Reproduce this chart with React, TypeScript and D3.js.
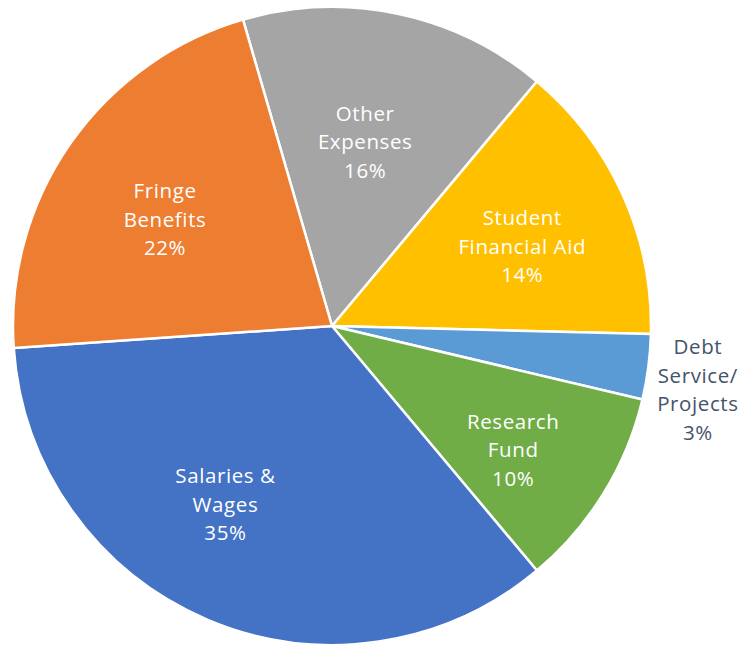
import React from "react";
import * as d3 from "d3";

const categories = ["Other Expenses", "Student Financial Aid", "Debt Service/ Projects", "Research Fund", "Salaries & Wages", "Fringe Benefits"];
const values = [15.6, 14.3, 3.3, 10.2, 35.0, 21.6];
const labelLines = [
  ["Other", "Expenses", "16%"],
  ["Student", "Financial Aid", "14%"],
  ["Debt", "Service/", "Projects", "3%"],
  ["Research", "Fund", "10%"],
  ["Salaries &", "Wages", "35%"],
  ["Fringe", "Benefits", "22%"],
];
const colors = ["#A5A5A5", "#FFC000", "#5B9BD5", "#70AD47", "#4472C4", "#ED7D31"];

const W = 742, H = 647;
const cx = 332, cy = 326, R = 319;
const startDeg = -16.2;
// layout nudges for label placement (pixels)
const nudges: [number, number][] = [[-8, 11], [8, 2], [-6, 15], [11, 18], [0, -3], [-3, 7]];

export default function App() {
  const pie = d3.pie<number>().sort(null).value((d) => d)
    .startAngle((startDeg * Math.PI) / 180)
    .endAngle(((startDeg + 360) * Math.PI) / 180);
  const arcs = pie(values);
  const arc = d3.arc<d3.PieArcDatum<number>>().innerRadius(0).outerRadius(R);
  const lh = 28.5;
  return (
    <svg width={W} height={H} style={{ position: "absolute", left: 0, top: 0, background: "#fff" }}
      fontFamily="'Open Sans', sans-serif">
      <g transform={`translate(${cx},${cy})`}>
        {arcs.map((a, i) => (
          <path key={categories[i]} d={arc(a) || ""} fill={colors[i]} stroke="#fff" strokeWidth={2.5} strokeLinejoin="round" />
        ))}
        {arcs.map((a, i) => {
          const mid = (a.startAngle + a.endAngle) / 2;
          const outside = values[i] < 5;
          const rr = outside ? 375 : i === 4 ? 210 : 200;
          const ang = i === 4 ? mid + 0.13 : mid;
          const x = Math.sin(ang) * rr + nudges[i][0];
          const y = -Math.cos(ang) * rr + nudges[i][1];
          const lines = labelLines[i];
          const y0 = y - ((lines.length - 1) * lh) / 2;
          return (
            <text key={"l" + i} x={x} y={y0} textAnchor="middle" fontSize={20.5} letterSpacing={0.6}
              fill={outside ? "#44546A" : "#fff"} dominantBaseline="central">
              {lines.map((t, j) => (
                <tspan key={j} x={x} y={y0 + j * lh}>{t}</tspan>
              ))}
            </text>
          );
        })}
      </g>
    </svg>
  );
}
